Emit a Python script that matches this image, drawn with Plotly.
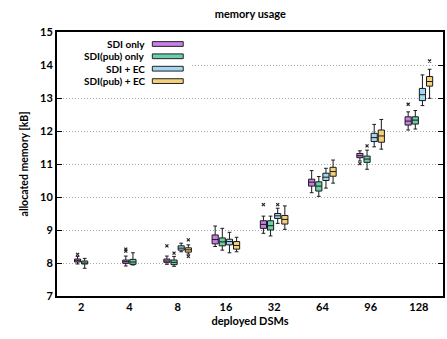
import plotly.graph_objects as go

categories = ["2", "4", "8", "16", "32", "64", "96", "128"]
series_names = ["SDI only", "SDI(pub) only", "SDI + EC", "SDI(pub) + EC"]
series_colors = ["#c97fe8", "#6ccfab", "#a2d6f1", "#f5d07a"]

# SDI only
sdi_lo = [7.97, 7.91, 7.96, 8.50, 8.90, 10.13, 11.09, 12.03]
sdi_q1 = [8.03, 7.99, 8.02, 8.58, 9.05, 10.33, 11.19, 12.18]
sdi_med = [8.07, 8.04, 8.06, 8.71, 9.17, 10.45, 11.25, 12.30]
sdi_q3 = [8.12, 8.09, 8.12, 8.85, 9.28, 10.54, 11.32, 12.43]
sdi_hi = [8.20, 8.21, 8.21, 9.12, 9.42, 10.80, 11.40, 12.58]
sdi_out = [[8.26], [8.36, 8.42], [8.52], [], [9.77], [], [11.01], [12.81]]

# SDI(pub) only
pub_lo = [7.84, 7.94, 7.90, 8.39, 8.82, 10.02, 10.84, 12.06]
pub_q1 = [7.97, 7.96, 7.95, 8.52, 9.00, 10.18, 11.05, 12.21]
pub_med = [8.00, 8.03, 8.02, 8.64, 9.13, 10.33, 11.15, 12.33]
pub_q3 = [8.06, 8.11, 8.09, 8.76, 9.28, 10.46, 11.24, 12.43]
pub_hi = [8.14, 8.31, 8.20, 9.05, 9.42, 10.62, 11.42, 12.62]
pub_out = [[], [], [8.30], [], [], [], [11.55], []]

# SDI + EC
ec_lo = [None, None, 8.34, 8.31, 9.20, 10.27, 11.52, 12.77]
ec_q1 = [None, None, 8.39, 8.55, 9.35, 10.50, 11.68, 12.92]
ec_med = [None, None, 8.45, 8.65, 9.43, 10.60, 11.80, 13.10]
ec_q3 = [None, None, 8.52, 8.72, 9.50, 10.72, 11.93, 13.29]
ec_hi = [None, None, 8.60, 8.93, 9.66, 10.87, 12.20, 13.70]
ec_out = [[], [], [], [], [9.77], [], [], []]

# SDI(pub) + EC
pubec_lo = [None, None, 8.27, 8.34, 9.02, 10.42, 11.45, 12.99]
pubec_q1 = [None, None, 8.33, 8.42, 9.18, 10.63, 11.66, 13.36]
pubec_med = [None, None, 8.40, 8.53, 9.32, 10.77, 11.85, 13.50]
pubec_q3 = [None, None, 8.46, 8.65, 9.44, 10.90, 12.03, 13.65]
pubec_hi = [None, None, 8.55, 8.78, 9.73, 11.12, 12.35, 13.87]
pubec_out = [[], [], [8.20, 8.70], [], [], [], [], [14.12]]

series = [
    (sdi_lo, sdi_q1, sdi_med, sdi_q3, sdi_hi, sdi_out),
    (pub_lo, pub_q1, pub_med, pub_q3, pub_hi, pub_out),
    (ec_lo, ec_q1, ec_med, ec_q3, ec_hi, ec_out),
    (pubec_lo, pubec_q1, pubec_med, pubec_q3, pubec_hi, pubec_out),
]

# layout of boxes inside each category (style)
SLOT = 0.148          # slot spacing in category units
BOXW = 0.128          # box width in category units
has_ec = [v is not None for v in ec_med]


def pos(i, si):
    slot = (si - 1.5) if has_ec[i] else (si - 0.5)
    return i + slot * SLOT


fig = go.Figure()
for si, (lo, q1, med, q3, hi, out) in enumerate(series):
    idx = [i for i in range(len(categories)) if med[i] is not None]
    fig.add_trace(go.Box(
        x=[pos(i, si) for i in idx],
        q1=[q1[i] for i in idx],
        median=[med[i] for i in idx],
        q3=[q3[i] for i in idx],
        lowerfence=[lo[i] for i in idx],
        upperfence=[hi[i] for i in idx],
        boxpoints=False,
        name=series_names[si],
        width=BOXW,
        fillcolor=series_colors[si],
        line=dict(color="#1a1a1a", width=1),
        whiskerwidth=0.6,
        showlegend=False,
    ))
    ox, oy = [], []
    for i in idx:
        for v in out[i]:
            ox.append(pos(i, si))
            oy.append(v)
    if ox:
        fig.add_trace(go.Scatter(
            x=ox, y=oy, mode="markers", showlegend=False,
            marker=dict(symbol="x-thin", size=3, color="#222222",
                        line=dict(width=1.2, color="#222222")),
        ))

bold = dict(family="Lato", weight="bold", color="black")
fig.update_layout(
    width=447, height=339,
    margin=dict(l=57, r=2, t=32, b=43),
    paper_bgcolor="white", plot_bgcolor="white",
    boxmode="overlay",
    font=dict(family="Lato", size=11, color="black", weight="bold"),
    title=dict(text="memory usage", x=0.56, xanchor="center",
               y=0.958, yanchor="middle", font=dict(size=11, **bold)),
    showlegend=False,
)
fig.update_xaxes(
    range=[-0.5, len(categories) - 0.5],
    tickmode="array", tickvals=list(range(len(categories))), ticktext=categories,
    showline=True, linewidth=2, linecolor="black", mirror=True,
    ticks="", showgrid=False, zeroline=False,
    tickfont=dict(size=11, **bold),
    title=dict(text="deployed DSMs", font=dict(size=11, **bold), standoff=5),
)
fig.update_yaxes(
    range=[7, 15], dtick=1,
    showline=True, linewidth=2, linecolor="black", mirror="ticks",
    ticks="inside", ticklen=5, tickwidth=1, tickcolor="black",
    showgrid=True, gridcolor="#a8a8a8", griddash="1px,2px", gridwidth=1,
    zeroline=False,
    tickfont=dict(size=11, **bold),
    title=dict(text="allocated memory [kB]", font=dict(size=10.5, **bold), standoff=9),
)

# custom legend (text right-aligned, swatch on the right, as in the original)
fig.add_shape(type="rect", xref="paper", yref="paper",
              x0=0.0, x1=0.345, y0=0.785, y1=0.985,
              fillcolor="white", line=dict(width=0), layer="above")
row_y = [0.9545, 0.908, 0.861, 0.814]
for name, color, yy in zip(series_names, series_colors, row_y):
    fig.add_annotation(xref="paper", yref="paper", x=0.233, y=yy,
                       text=name, showarrow=False,
                       xanchor="right", yanchor="middle",
                       font=dict(size=10, **bold))
    fig.add_shape(type="rect", xref="paper", yref="paper",
                  x0=0.247, x1=0.327, y0=yy - 0.009, y1=yy + 0.009,
                  fillcolor=color, line=dict(color="#222222", width=1),
                  layer="above")

fig.write_html("out.html")
